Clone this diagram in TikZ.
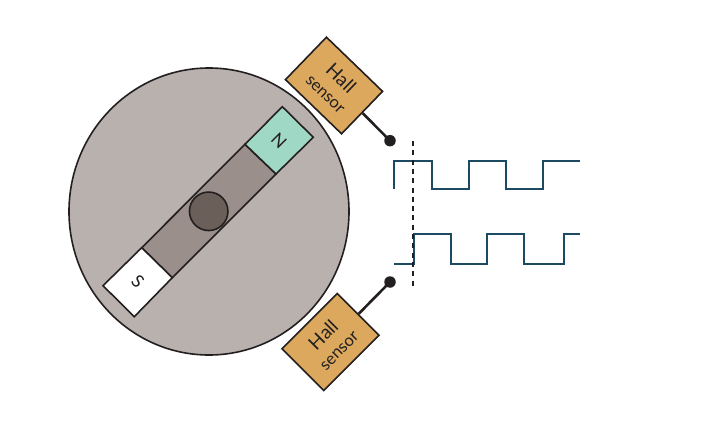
\documentclass[tikz,border=0pt]{standalone}
\usepackage{fontspec}
\setmainfont{Lato}
\definecolor{disc}{HTML}{B9B1AD}
\definecolor{band}{HTML}{9A8F8A}
\definecolor{hub}{HTML}{6B5F5A}
\definecolor{mint}{HTML}{9FD8C5}
\definecolor{amber}{HTML}{DBA85E}
\definecolor{wave}{HTML}{1D4A63}
\definecolor{ink}{HTML}{231F20}
\newcommand{\hallword}{{\fontsize{19}{19}\selectfont Hall}}
\newcommand{\sensorword}{{\fontsize{16.5}{16.5}\selectfont sensor}}
\tikzset{
  outline/.style={draw=ink,line width=1.6pt,line join=miter},
  sensorbox/.style={outline,fill=amber,minimum width=78pt,minimum height=59pt,inner sep=0pt,align=center,text=ink},
  lead/.style={draw=ink,line width=2.6pt},
  contact/.style={circle,fill=ink,minimum size=11.5pt,inner sep=0pt},
  signal/.style={draw=wave,line width=2pt,line join=miter},
  pole/.style={font=\fontsize{17.5}{17.5}\selectfont,text=ink,inner sep=0pt}
}
\begin{document}
\begin{tikzpicture}[x=1pt,y=-1pt]
\useasboundingbox (0,0) rectangle (712,436);
\draw[outline,fill=disc] (209,211.5) ellipse [x radius=140,y radius=143.5];
\draw[outline,fill=band] (245,144.3) -- (276,174) -- (172.3,277.7) -- (141.7,247.7) -- cycle;
\draw[outline,fill=mint] (282.3,106.7) -- (313.3,137.3) -- (276,174) -- (245,144.3) -- cycle;
\draw[outline,fill=white] (141.7,247.7) -- (172.3,277.7) -- (134.3,316.7) -- (103,285.7) -- cycle;
\node[pole,rotate=-45] (n) at (279,141) {N};
\node[pole,rotate=-45] (s) at (138,281.5) {S};
\node[circle,outline,fill=hub,minimum size=38.5pt,inner sep=0pt] (hub) at (208.7,211.3) {};
\node[sensorbox,rotate=-44] (top) at (334,85.5) {\hallword\\[9pt]\sensorword};
\node[sensorbox,rotate=45] (bot) at (330.5,342) {\hallword\\[9pt]\sensorword};
\node[contact] (c1) at (390,140.7) {};
\node[contact] (c2) at (390,282) {};
\draw[lead] (top.east) -- (c1.center);
\draw[lead] (bot.east) -- (c2.center);
\draw[signal] (394,188.5) |- (432.3,160.5) |- (468.7,189) |- (506,160.5) |- (543.3,189) |- (580,160.5);
\draw[signal] (394,263.5) -| (414.3,234) -| (450.7,263.5) -| (486.7,234) -| (524,263.5) -| (563.7,234) -- (580,234);
\draw[ink,line width=1.7pt,dash pattern=on 5pt off 4.3pt] (413,141) -- (413,286);
\end{tikzpicture}
\end{document}
